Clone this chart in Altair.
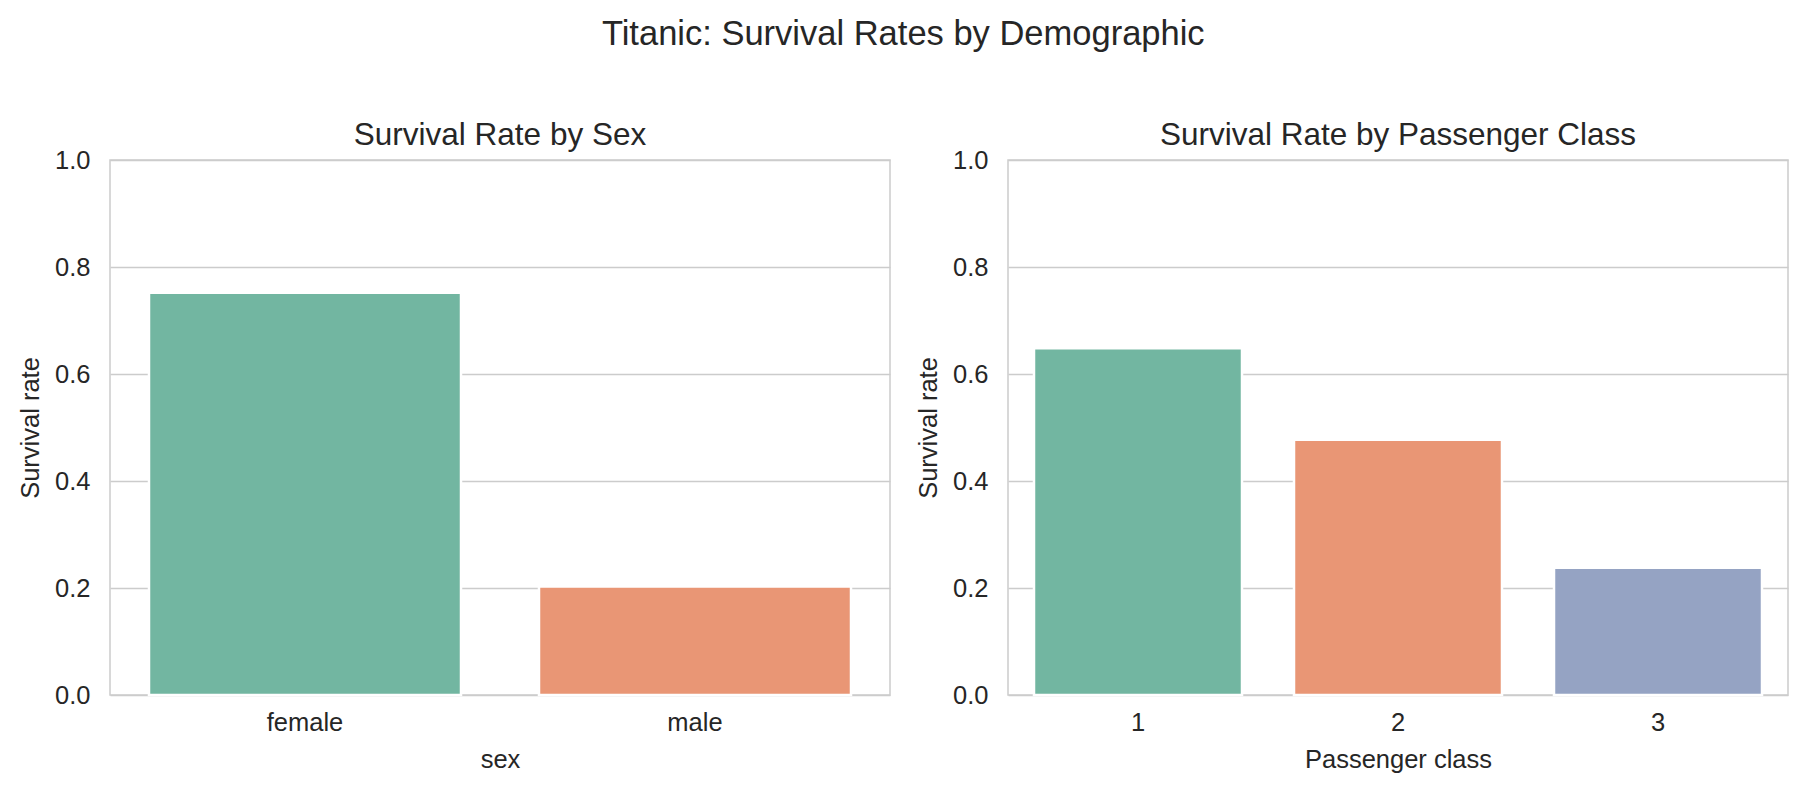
import altair as alt
import pandas as pd

# ---- data ----
sex_labels = ["female", "male"]
sex_rates = [0.752, 0.203]
class_labels = ["1", "2", "3"]
class_rates = [0.648, 0.477, 0.238]
palette = ["#72b6a1", "#e99675", "#95a3c3"]

suptitle = "Titanic: Survival Rates by Demographic"
left_title = "Survival Rate by Sex"
right_title = "Survival Rate by Passenger Class"
y_title = "Survival rate"
y_ticks = [0.0, 0.2, 0.4, 0.6, 0.8, 1.0]

df_sex = pd.DataFrame({"cat": sex_labels, "rate": sex_rates})
df_class = pd.DataFrame({"cat": class_labels, "rate": class_rates})

FONT = "Liberation Sans"
TXT = "#262626"
GRID = "#cccccc"
W, H = 780, 535
TICK_FS = 25.5
LAB_FS = 25.5


def panel(df, labels, xtitle, title):
    return alt.Chart(df).mark_bar(stroke="white", strokeWidth=2.5).encode(
        x=alt.X(
            "cat:N",
            title=xtitle,
            sort=labels,
            scale=alt.Scale(domain=labels, paddingInner=0.2, paddingOuter=0.1),
            axis=alt.Axis(
                labelAngle=0, ticks=False, domain=False, grid=False,
                labelPadding=15, titlePadding=12,
                labelFontSize=TICK_FS, titleFontSize=LAB_FS,
                labelColor=TXT, titleColor=TXT, titleFontWeight="normal",
                labelFont=FONT, titleFont=FONT,
            ),
        ),
        y=alt.Y(
            "rate:Q",
            title=y_title,
            scale=alt.Scale(domain=[0, 1], nice=False, zero=True),
            axis=alt.Axis(
                values=y_ticks, format=".1f", ticks=False, domain=False,
                grid=True, gridColor=GRID, gridWidth=1.6,
                labelPadding=20, titlePadding=11,
                labelFontSize=TICK_FS, titleFontSize=LAB_FS,
                labelColor=TXT, titleColor=TXT, titleFontWeight="normal",
                labelFont=FONT, titleFont=FONT,
            ),
        ),
        color=alt.Color(
            "cat:N",
            scale=alt.Scale(domain=labels, range=palette[: len(labels)]),
            legend=None,
        ),
    ).properties(
        width=W,
        height=H,
        title=alt.TitleParams(
            title, fontSize=31.5, font=FONT, color=TXT, fontWeight="normal",
            anchor="middle", baseline="alphabetic", offset=-28.5,
        ),
    )


left = panel(df_sex, sex_labels, "sex", left_title)
right = panel(df_class, class_labels, "Passenger class", right_title)

chart = alt.hconcat(left, right, spacing=24).resolve_scale(
    color="independent", x="independent"
).properties(
    title=alt.TitleParams(
        suptitle, fontSize=34.5, font=FONT, color=TXT, fontWeight="normal",
        anchor="middle", baseline="alphabetic", offset=39.5,
    ),
    padding={"left": 9, "top": 9, "right": 5, "bottom": 5},
    background="white",
).configure_view(stroke=GRID, strokeWidth=1.5)

chart.save("out.html", embed_options={"renderer": "svg", "actions": False})
